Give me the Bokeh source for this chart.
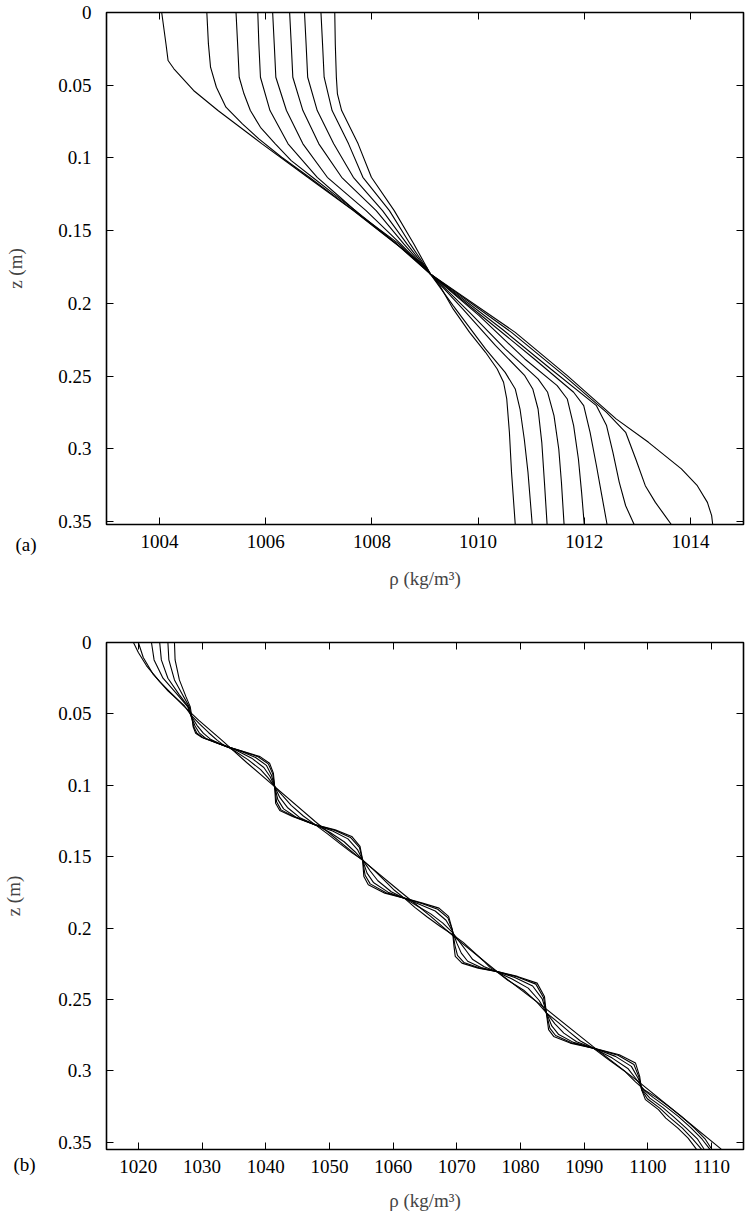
from bokeh.plotting import figure
from bokeh.models import Range1d, LinearAxis, FixedTicker, Label, CustomLabelingPolicy
from bokeh.layouts import column
from bokeh.embed import file_html
from bokeh.resources import INLINE

FONT = "Liberation Serif"
FS = "19px"

# ---------------- shared ticks ----------------
Z_TICKS = [0, 0.05, 0.1, 0.15, 0.2, 0.25, 0.3, 0.35]
Z_TICK_LABELS = ["0", "0.05", "0.1", "0.15", "0.2", "0.25", "0.3", "0.35"]
A_X_TICKS = [1004, 1006, 1008, 1010, 1012, 1014]
B_X_TICKS = [1020, 1030, 1040, 1050, 1060, 1070, 1080, 1090, 1100, 1110]
X_LABEL = "ρ (kg/m³)"
Z_LABEL = "z (m)"

# ---------------- panel (a) profiles ----------------
A1_RHO = [1004.04, 1004.12, 1004.16, 1004.27, 1004.64, 1005.10, 1005.93, 1006.79, 1007.65, 1008.45, 1009.03, 1009.10,
          1010.70, 1011.68, 1012.60, 1013.21, 1013.83, 1014.13, 1014.32, 1014.40, 1014.42]
A1_Z = [0.0, 0.0215, 0.0330, 0.0387, 0.0536, 0.0674, 0.0903, 0.1133, 0.1362, 0.1591, 0.1752, 0.1797,
        0.2199, 0.2497, 0.2794, 0.2955, 0.3138, 0.3253, 0.3368, 0.3459, 0.3520]

A2_RHO = [1004.89, 1004.92, 1004.96, 1005.07, 1005.25, 1005.56, 1005.87, 1006.30, 1006.82, 1007.66, 1008.46, 1009.10,
          1010.63, 1011.62, 1012.42, 1012.78, 1012.97, 1013.15, 1013.34, 1013.52, 1013.64]
A2_Z = [0.0, 0.0216, 0.0376, 0.0514, 0.0651, 0.0766, 0.0869, 0.0995, 0.1133, 0.1362, 0.1591, 0.1797,
        0.2199, 0.2497, 0.2749, 0.2886, 0.3070, 0.3253, 0.3368, 0.3459, 0.3520]

A3_RHO = [1005.44, 1005.47, 1005.50, 1005.59, 1005.71, 1005.90, 1006.18, 1006.48, 1006.88, 1007.28, 1007.69, 1008.47, 1009.10,
          1010.45, 1011.37, 1012.23, 1012.42, 1012.54, 1012.66, 1012.78, 1012.94]
A3_Z = [0.0, 0.0216, 0.0445, 0.0559, 0.0674, 0.0789, 0.0903, 0.1018, 0.1133, 0.1247, 0.1362, 0.1591, 0.1797,
        0.2176, 0.2451, 0.2703, 0.2840, 0.3024, 0.3230, 0.3391, 0.3520]

A4_RHO = [1005.85, 1005.87, 1005.90, 1006.08, 1006.42, 1006.97, 1007.40, 1007.83, 1008.51, 1009.10,
          1010.14, 1011.06, 1011.80, 1011.99, 1012.11, 1012.23, 1012.32, 1012.43]
A4_Z = [0.0, 0.0216, 0.0445, 0.0674, 0.0903, 0.1133, 0.1270, 0.1408, 0.1591, 0.1797,
        0.2107, 0.2382, 0.2611, 0.2703, 0.2886, 0.3116, 0.3299, 0.3520]

A5_RHO = [1006.13, 1006.16, 1006.19, 1006.39, 1006.70, 1007.16, 1007.89, 1008.54, 1009.10,
          1010.02, 1010.88, 1011.49, 1011.68, 1011.80, 1011.89, 1011.95, 1012.00]
A5_Z = [0.0, 0.0216, 0.0445, 0.0674, 0.0903, 0.1133, 0.1362, 0.1591, 0.1797,
        0.2084, 0.2382, 0.2565, 0.2657, 0.2840, 0.3070, 0.3299, 0.3520]

A6_RHO = [1006.45, 1006.48, 1006.51, 1006.70, 1007.00, 1007.43, 1008.08, 1008.60, 1009.10,
          1009.84, 1010.51, 1011.13, 1011.31, 1011.43, 1011.52, 1011.57, 1011.62]
A6_Z = [0.0, 0.0216, 0.0445, 0.0674, 0.0903, 0.1133, 0.1362, 0.1591, 0.1797,
        0.2061, 0.2313, 0.2519, 0.2611, 0.2772, 0.3001, 0.3230, 0.3520]

A7_RHO = [1006.73, 1006.76, 1006.79, 1006.97, 1007.28, 1007.65, 1008.20, 1008.66, 1009.10,
          1009.71, 1010.33, 1010.88, 1011.03, 1011.13, 1011.20, 1011.25, 1011.30]
A7_Z = [0.0, 0.0216, 0.0445, 0.0674, 0.0903, 0.1133, 0.1362, 0.1591, 0.1797,
        0.2038, 0.2290, 0.2497, 0.2588, 0.2726, 0.2955, 0.3230, 0.3520]

A8_RHO = [1007.04, 1007.07, 1007.10, 1007.25, 1007.56, 1007.83, 1008.33, 1008.72, 1009.10,
          1009.53, 1010.14, 1010.51, 1010.70, 1010.79, 1010.87, 1010.94, 1011.02]
A8_Z = [0.0, 0.0216, 0.0445, 0.0674, 0.0903, 0.1133, 0.1362, 0.1591, 0.1797,
        0.2015, 0.2313, 0.2474, 0.2588, 0.2726, 0.2932, 0.3161, 0.3520]

A9_RHO = [1007.30, 1007.31, 1007.33, 1007.35, 1007.43, 1007.74, 1007.99, 1008.42, 1008.79, 1009.10,
          1009.28, 1009.53, 1009.84, 1010.14, 1010.36, 1010.48, 1010.54, 1010.59, 1010.63, 1010.70]
A9_Z = [0.0, 0.0216, 0.0445, 0.0559, 0.0674, 0.0903, 0.1133, 0.1362, 0.1591, 0.1797,
        0.1878, 0.2038, 0.2199, 0.2336, 0.2451, 0.2542, 0.2657, 0.2886, 0.3161, 0.3520]

# ---------------- panel (b) profiles ----------------
B0_RHO = [1019.23, 1020.00, 1021.29, 1023.35, 1025.41, 1027.22, 1029.50, 1033.00, 1037.00, 1041.40, 1047.80,
          1055.30, 1061.00, 1065.90, 1069.50, 1076.20, 1084.15, 1091.40, 1098.80, 1105.00, 1111.50]
B0_Z = [0.0, 0.0070, 0.0163, 0.0274, 0.0367, 0.0449, 0.0545, 0.0680, 0.0840, 0.1009, 0.1255,
        0.1529, 0.1740, 0.1918, 0.2058, 0.2300, 0.2571, 0.2830, 0.3085, 0.3310, 0.3547]

B1_RHO = [1020.00, 1020.77, 1022.32, 1024.64, 1027.22,
          1028.30, 1029.60, 1031.00, 1032.40,
          1033.20, 1033.90, 1035.20, 1037.20, 1039.20,
          1040.40, 1041.40, 1042.60, 1044.00,
          1045.90, 1047.80, 1049.70, 1051.70,
          1053.60, 1055.20, 1056.90, 1058.40,
          1060.20, 1061.75, 1063.40, 1065.30,
          1067.30, 1069.30, 1071.00, 1072.60, 1074.20,
          1075.20, 1076.20, 1078.00, 1080.50,
          1082.50, 1084.10, 1085.90, 1087.60,
          1089.40, 1091.40, 1093.80, 1096.30,
          1098.00, 1099.40, 1101.30, 1103.30,
          1105.30, 1107.30, 1109.00, 1110.00]
B1_Z = [0.0, 0.0105, 0.0222, 0.0338, 0.0443,
        0.0510, 0.0570, 0.0630, 0.0685,
        0.0712, 0.0729, 0.0762, 0.0820, 0.0890,
        0.0950, 0.1009, 0.1070, 0.1140,
        0.1215, 0.1277, 0.1340, 0.1410,
        0.1475, 0.1522, 0.1590, 0.1655,
        0.1735, 0.1790, 0.1855, 0.1920,
        0.1985, 0.2045, 0.2100, 0.2165, 0.2230,
        0.2275, 0.2303, 0.2365, 0.2435,
        0.2515, 0.2595, 0.2660, 0.2725,
        0.2790, 0.2840, 0.2920, 0.3000,
        0.3075, 0.3131, 0.3185, 0.3250,
        0.3320, 0.3400, 0.3478, 0.3547]

B2_RHO = [1022.06, 1022.47, 1023.87, 1025.93, 1027.73,
          1028.30, 1029.20, 1030.20, 1031.40,
          1032.70, 1033.90, 1035.60, 1037.80, 1039.70,
          1040.70, 1041.40, 1042.20, 1043.40,
          1045.30, 1047.80, 1050.10, 1052.30,
          1054.00, 1055.20, 1056.40, 1057.60,
          1059.70, 1061.75, 1063.80, 1065.90,
          1067.80, 1069.30, 1070.40, 1071.50, 1072.50,
          1074.30, 1076.20, 1078.60, 1081.20,
          1082.90, 1084.10, 1085.40, 1086.80,
          1088.80, 1091.40, 1094.40, 1096.90,
          1098.30, 1099.30, 1100.80, 1102.80,
          1104.80, 1106.80, 1108.50, 1109.70]
B2_Z = [0.0, 0.0122, 0.0250, 0.0355, 0.0449,
        0.0515, 0.0580, 0.0635, 0.0680,
        0.0708, 0.0729, 0.0760, 0.0810, 0.0875,
        0.0940, 0.1009, 0.1085, 0.1155,
        0.1225, 0.1277, 0.1330, 0.1395,
        0.1465, 0.1522, 0.1600, 0.1668,
        0.1745, 0.1790, 0.1845, 0.1900,
        0.1965, 0.2030, 0.2095, 0.2160, 0.2220,
        0.2270, 0.2303, 0.2355, 0.2420,
        0.2505, 0.2595, 0.2670, 0.2735,
        0.2795, 0.2840, 0.2910, 0.2985,
        0.3065, 0.3131, 0.3185, 0.3250,
        0.3320, 0.3400, 0.3478, 0.3547]

B3_RHO = [1023.35, 1023.61, 1024.64, 1026.44, 1027.84,
          1028.30, 1028.90, 1029.60, 1030.60,
          1032.20, 1033.90, 1036.00, 1038.40, 1040.10,
          1040.90, 1041.40, 1041.90, 1042.80,
          1044.70, 1047.80, 1050.50, 1052.90,
          1054.40, 1055.20, 1055.90, 1056.90,
          1059.20, 1061.75, 1064.20, 1066.60,
          1068.30, 1069.30, 1070.00, 1070.70, 1071.70,
          1073.80, 1076.20, 1079.10, 1081.90,
          1083.40, 1084.10, 1084.90, 1086.00,
          1088.30, 1091.40, 1094.90, 1097.40,
          1098.50, 1099.10, 1100.30, 1102.30,
          1104.00, 1106.00, 1107.80, 1108.80]
B3_Z = [0.0, 0.0122, 0.0250, 0.0367, 0.0449,
        0.0520, 0.0585, 0.0635, 0.0672,
        0.0702, 0.0729, 0.0760, 0.0805, 0.0860,
        0.0930, 0.1009, 0.1100, 0.1165,
        0.1222, 0.1277, 0.1320, 0.1375,
        0.1450, 0.1522, 0.1615, 0.1680,
        0.1748, 0.1790, 0.1835, 0.1880,
        0.1945, 0.2020, 0.2105, 0.2175, 0.2232,
        0.2275, 0.2303, 0.2345, 0.2405,
        0.2495, 0.2595, 0.2685, 0.2745,
        0.2800, 0.2840, 0.2898, 0.2968,
        0.3055, 0.3131, 0.3190, 0.3255,
        0.3320, 0.3400, 0.3478, 0.3547]

B4_RHO = [1024.64, 1024.79, 1025.67, 1026.96, 1027.99,
          1028.35, 1028.70, 1029.20, 1030.20,
          1032.00, 1033.90, 1036.30, 1038.80, 1040.40,
          1041.10, 1041.40, 1041.70, 1042.40,
          1044.40, 1047.80, 1050.80, 1053.30,
          1054.70, 1055.20, 1055.60, 1056.40,
          1058.90, 1061.75, 1064.50, 1067.00,
          1068.60, 1069.30, 1069.70, 1070.10, 1071.10,
          1073.50, 1076.20, 1079.40, 1082.40,
          1083.60, 1084.05, 1084.60, 1085.50,
          1088.00, 1091.40, 1095.30, 1097.80,
          1098.60, 1099.00, 1099.90, 1101.90,
          1103.40, 1105.40, 1107.00, 1108.40]
B4_Z = [0.0, 0.0122, 0.0262, 0.0367, 0.0449,
        0.0520, 0.0590, 0.0635, 0.0668,
        0.0698, 0.0729, 0.0762, 0.0800, 0.0850,
        0.0920, 0.1009, 0.1115, 0.1172,
        0.1218, 0.1277, 0.1315, 0.1365,
        0.1435, 0.1522, 0.1630, 0.1690,
        0.1752, 0.1790, 0.1828, 0.1868,
        0.1928, 0.2012, 0.2120, 0.2190, 0.2240,
        0.2278, 0.2303, 0.2340, 0.2392,
        0.2485, 0.2595, 0.2700, 0.2752,
        0.2802, 0.2840, 0.2890, 0.2955,
        0.3045, 0.3131, 0.3195, 0.3262,
        0.3325, 0.3400, 0.3475, 0.3547]

B5_RHO = [1025.67, 1025.77, 1026.44, 1027.47, 1028.14,
          1028.40, 1028.60, 1029.00, 1030.00,
          1031.90, 1033.90, 1036.50, 1039.10, 1040.60,
          1041.20, 1041.40, 1041.55, 1042.20,
          1044.20, 1047.80, 1050.90, 1053.50,
          1054.80, 1055.20, 1055.40, 1056.10,
          1058.70, 1061.75, 1064.60, 1067.20,
          1068.70, 1069.30, 1069.55, 1069.75, 1070.80,
          1073.35, 1076.20, 1079.50, 1082.60,
          1083.75, 1084.05, 1084.40, 1085.20,
          1087.80, 1091.40, 1095.50, 1098.05,
          1098.70, 1099.00, 1099.60, 1101.65,
          1102.80, 1104.70, 1106.30, 1107.60]
B5_Z = [0.0, 0.0122, 0.0262, 0.0379, 0.0449,
        0.0520, 0.0590, 0.0635, 0.0665,
        0.0694, 0.0729, 0.0764, 0.0799, 0.0845,
        0.0915, 0.1009, 0.1125, 0.1176,
        0.1218, 0.1277, 0.1312, 0.1358,
        0.1428, 0.1522, 0.1638, 0.1697,
        0.1755, 0.1790, 0.1825, 0.1860,
        0.1918, 0.2012, 0.2128, 0.2198, 0.2245,
        0.2280, 0.2303, 0.2338, 0.2385,
        0.2478, 0.2595, 0.2711, 0.2758,
        0.2805, 0.2840, 0.2886, 0.2945,
        0.3038, 0.3131, 0.3201, 0.3271,
        0.3330, 0.3400, 0.3470, 0.3547]

A_CURVES = [(A1_RHO, A1_Z), (A2_RHO, A2_Z), (A3_RHO, A3_Z), (A4_RHO, A4_Z), (A5_RHO, A5_Z),
            (A6_RHO, A6_Z), (A7_RHO, A7_Z), (A8_RHO, A8_Z), (A9_RHO, A9_Z)]
B_CURVES = [(B0_RHO, B0_Z), (B1_RHO, B1_Z), (B2_RHO, B2_Z), (B3_RHO, B3_Z), (B4_RHO, B4_Z), (B5_RHO, B5_Z)]

NO_LABELS = """
for (let i = 0; i < indices.size; i++) { indices.unset(i) }
return indices
"""


def tick_axis(ax, ticks, labels=None):
    ax.ticker = FixedTicker(ticks=ticks)
    ax.major_tick_in = 7
    ax.major_tick_out = 0
    ax.minor_tick_in = 0
    ax.minor_tick_out = 0
    ax.major_tick_line_color = "black"
    ax.major_tick_line_width = 1
    ax.axis_line_color = None
    if labels is None:
        ax.major_label_policy = CustomLabelingPolicy(code=NO_LABELS)
        ax.major_label_standoff = 0
        ax.major_label_text_font_size = "1px"
    else:
        ax.major_label_overrides = {t: l for t, l in zip(ticks, labels)}
        ax.major_label_text_font = FONT
        ax.major_label_text_font_size = FS
        ax.major_label_text_color = "black"


def make_panel(width, height, x_range, z_max, x_ticks, borders, curves, tag, tag_dy, tag_side,
               xlab_standoff, zlab_standoff):
    left, right, top, bottom = borders
    p = figure(width=width, height=height,
               x_range=Range1d(*x_range), y_range=Range1d(z_max, 0),
               output_backend="svg", toolbar_location=None,
               min_border_left=left, min_border_right=right,
               min_border_top=top, min_border_bottom=bottom)
    p.grid.visible = False
    p.background_fill_color = "white"
    p.border_fill_color = "white"
    p.outline_line_color = "black"
    p.outline_line_width = 1.6

    xa = p.xaxis[0]
    tick_axis(xa, x_ticks, [str(t) for t in x_ticks])
    xa.major_label_standoff = 10
    xa.axis_label = X_LABEL
    xa.axis_label_text_font = FONT
    xa.axis_label_text_font_size = FS
    xa.axis_label_text_font_style = "normal"
    xa.axis_label_standoff = xlab_standoff

    ya = p.yaxis[0]
    tick_axis(ya, Z_TICKS, Z_TICK_LABELS)
    ya.major_label_standoff = 15
    ya.axis_label = Z_LABEL
    ya.axis_label_text_font = FONT
    ya.axis_label_text_font_size = FS
    ya.axis_label_text_font_style = "normal"
    ya.axis_label_standoff = zlab_standoff

    top_ax = LinearAxis()
    tick_axis(top_ax, x_ticks)
    p.add_layout(top_ax, "above")
    right_ax = LinearAxis()
    tick_axis(right_ax, Z_TICKS)
    p.add_layout(right_ax, "right")

    for rho, z in curves:
        p.line(x=rho, y=z, line_color="black", line_width=1.1)

    p.add_layout(Label(x=x_range[0], y=z_max, x_offset=7 - left, y_offset=-tag_dy,
                       text=tag, text_font=FONT, text_font_size=FS,
                       text_baseline="middle", text_align="left", text_color="black"), tag_side)
    return p


pa = make_panel(748, 616, (1003, 1015), 0.352, A_X_TICKS, (98, 2, 12, 92), A_CURVES,
                "(a)", 20, "below", 17, 29)
pb = make_panel(748, 600, (1015, 1115), 0.355, B_X_TICKS, (100, 4, 26, 67), B_CURVES,
                "(b)", 15, "above", 14, 31)

layout = column(pa, pb)
open("out.html", "w").write(file_html(layout, INLINE))
